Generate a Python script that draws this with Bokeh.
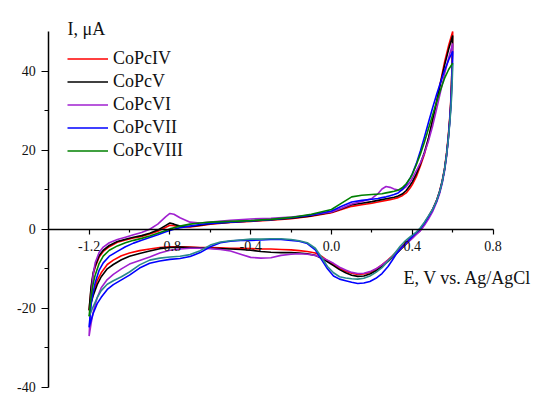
from bokeh.plotting import figure
from bokeh.models import Range1d, FixedTicker, Legend, LegendItem, Label
from bokeh.embed import file_html
from bokeh.resources import INLINE
import numpy as np

# ---- data (E in V vs Ag/AgCl, I in uA) ----
E_fwd = [-1.20, -1.19, -1.18, -1.17, -1.15, -1.13, -1.10, -1.06, -1.02, -0.98,
         -0.94, -0.90, -0.86, -0.82, -0.80, -0.78, -0.75, -0.70, -0.65, -0.60,
         -0.50, -0.40, -0.30, -0.20, -0.10, 0.00, 0.05, 0.10, 0.15, 0.20,
         0.23, 0.25, 0.27, 0.29, 0.31, 0.33, 0.35, 0.37, 0.39, 0.40,
         0.42, 0.44, 0.46, 0.48, 0.50, 0.52, 0.54, 0.56, 0.58, 0.60]

E_rev = [0.600, 0.599, 0.597, 0.594, 0.590, 0.585, 0.578, 0.570, 0.560, 0.548,
         0.535, 0.520, 0.500, 0.480, 0.460, 0.440, 0.420, 0.400, 0.380, 0.360,
         0.340, 0.320, 0.300, 0.280, 0.250, 0.220, 0.190, 0.160, 0.130, 0.100,
         0.070, 0.040, 0.010, -0.020, -0.050, -0.080, -0.120, -0.160, -0.200, -0.250,
         -0.300, -0.350, -0.400, -0.450, -0.500, -0.550, -0.600, -0.650, -0.700, -0.750,
         -0.800, -0.850, -0.900, -0.950, -1.000, -1.040, -1.080, -1.110, -1.140, -1.160,
         -1.180, -1.190, -1.200]

I_IV_fwd = [-20.5, -15.0, -11.5, -9.6, -7.0, -5.6, -4.4, -3.3, -2.7, -2.2,
            -1.8, -1.2, -0.5, 0.5, 1.0, 0.9, 0.6, 0.6, 0.9, 1.3,
            1.7, 2.0, 2.3, 2.7, 3.3, 4.2, 5.0, 5.8, 6.2, 6.6,
            6.9, 7.1, 7.3, 7.5, 7.7, 8.0, 8.5, 9.2, 10.5, 11.3,
            13.3, 16.0, 19.0, 22.8, 27.3, 32.3, 37.3, 42.3, 46.5, 50.0]
I_IV_rev = [50.0, 46.0, 42.0, 37.0, 32.0, 28.0, 23.5, 19.5, 15.5, 12.3,
            9.6, 7.3, 5.0, 3.2, 1.5, 0.0, -0.9, -1.8, -2.8, -3.8,
            -4.8, -5.8, -6.8, -7.7, -9.0, -10.1, -10.9, -11.3, -11.4, -11.1,
            -10.6, -9.9, -8.9, -7.9, -6.8, -6.0, -5.6, -5.4, -5.2, -5.1,
            -5.0, -5.0, -4.9, -4.8, -4.8, -4.7, -4.6, -4.6, -4.5, -4.4,
            -4.4, -4.6, -5.0, -5.4, -6.0, -6.7, -7.8, -8.9, -11.0, -13.0,
            -16.0, -18.3, -20.5]

I_V_fwd = [-20.5, -14.5, -11.0, -9.3, -6.6, -5.3, -4.1, -3.1, -2.5, -2.0,
           -1.6, -1.0, -0.2, 1.0, 1.6, 1.3, 0.8, 0.7, 1.0, 1.4,
           1.8, 2.1, 2.4, 2.8, 3.4, 4.3, 5.2, 6.2, 6.6, 7.0,
           7.3, 7.5, 7.7, 7.9, 8.1, 8.4, 8.9, 9.8, 11.2, 12.0,
           14.0, 16.5, 19.5, 23.0, 27.5, 32.0, 37.0, 41.5, 45.5, 49.0]
I_V_rev = [49.0, 45.5, 41.5, 36.5, 31.5, 27.5, 23.0, 19.0, 15.2, 12.0,
           9.4, 7.1, 4.8, 3.0, 1.3, -0.2, -1.2, -2.2, -3.2, -4.2,
           -5.2, -6.2, -7.2, -8.1, -9.4, -10.5, -11.3, -11.8, -11.9, -11.6,
           -11.0, -10.2, -9.2, -8.2, -7.3, -6.6, -6.2, -6.0, -5.9, -5.9,
           -5.8, -5.6, -5.3, -5.1, -5.0, -4.9, -4.8, -4.7, -4.6, -4.5,
           -4.6, -4.9, -5.5, -6.1, -6.8, -7.7, -8.9, -10.0, -12.0, -14.0,
           -16.8, -18.6, -20.5]

I_VI_fwd = [-27.0, -17.0, -11.5, -8.5, -5.8, -4.5, -3.4, -2.6, -2.0, -1.4,
            -0.8, 0.0, 1.3, 3.2, 4.0, 3.8, 2.9, 1.8, 1.6, 1.8,
            2.3, 2.6, 2.8, 3.1, 3.6, 4.4, 5.3, 6.4, 7.0, 7.8,
            9.0, 10.2, 10.8, 10.6, 10.2, 9.9, 10.0, 10.8, 12.0, 12.9,
            14.8, 16.8, 19.2, 22.3, 26.0, 30.3, 34.8, 39.3, 43.3, 47.0]
I_VI_rev = [47.0, 43.5, 40.0, 35.5, 31.0, 27.0, 22.5, 18.5, 14.8, 11.6,
            9.0, 6.8, 4.4, 2.6, 1.0, -0.4, -1.3, -2.3, -3.2, -4.1,
            -5.0, -6.0, -7.0, -7.8, -9.0, -10.0, -10.7, -11.1, -11.2, -10.9,
            -10.3, -9.6, -8.6, -7.8, -7.1, -6.6, -6.3, -6.2, -6.3, -6.6,
            -7.2, -7.3, -7.1, -6.3, -5.5, -5.1, -4.9, -4.8, -4.8, -5.0,
            -5.3, -6.0, -7.0, -7.9, -8.8, -10.0, -11.4, -12.7, -14.8, -17.3,
            -21.0, -23.8, -27.0]

I_VII_fwd = [-24.8, -19.0, -16.0, -13.5, -10.3, -8.5, -6.8, -5.6, -4.4, -3.5,
             -2.8, -2.1, -1.4, -0.6, -0.3, 0.0, 0.4, 0.8, 1.2, 1.5,
             1.8, 2.1, 2.4, 2.9, 3.6, 4.6, 5.8, 6.9, 7.3, 7.6,
             7.8, 8.0, 8.2, 8.5, 8.8, 9.2, 10.0, 11.3, 13.0, 14.0,
             16.6, 19.8, 23.3, 27.0, 30.6, 34.0, 37.2, 40.2, 42.8, 45.0]
I_VII_rev = [45.0, 42.0, 38.5, 34.5, 30.5, 27.0, 22.8, 19.0, 15.2, 12.0,
             9.4, 7.1, 4.9, 3.2, 1.6, 0.2, -0.8, -1.8, -2.9, -3.9,
             -5.0, -6.3, -7.9, -9.4, -11.2, -12.4, -13.2, -13.6, -13.7, -13.4,
             -13.0, -12.6, -11.8, -10.0, -7.6, -5.2, -3.6, -3.0, -2.8, -2.6,
             -2.6, -2.7, -2.8, -2.8, -3.0, -3.4, -4.4, -5.9, -6.9, -7.4,
             -7.6, -8.0, -8.6, -9.8, -11.6, -12.8, -14.0, -15.2, -17.2, -18.8,
             -21.3, -23.0, -24.8]

I_VIII_fwd = [-22.0, -17.0, -13.8, -11.6, -8.6, -6.8, -5.3, -4.2, -3.4, -2.8,
              -2.3, -1.7, -1.0, -0.3, 0.1, 0.4, 0.8, 1.3, 1.6, 1.8,
              2.0, 2.2, 2.5, 3.0, 3.8, 5.0, 6.6, 8.2, 8.6, 8.8,
              8.9, 9.0, 9.2, 9.4, 9.6, 9.9, 10.5, 11.5, 13.0, 13.9,
              16.3, 19.0, 22.0, 25.4, 28.8, 32.2, 35.3, 38.2, 40.4, 42.0]
I_VIII_rev = [42.0, 39.5, 36.5, 33.0, 29.8, 26.5, 22.6, 18.9, 15.2, 12.0,
              9.4, 7.2, 5.0, 3.4, 1.8, 0.4, -0.7, -1.5, -2.3, -3.2,
              -4.3, -5.6, -6.9, -8.0, -9.7, -10.9, -11.8, -12.4, -12.6, -12.5,
              -12.3, -12.0, -11.0, -9.4, -7.0, -4.8, -3.4, -2.9, -2.6, -2.4,
              -2.4, -2.5, -2.5, -2.7, -2.9, -3.2, -4.0, -5.4, -6.4, -6.8,
              -7.0, -7.3, -7.8, -9.0, -10.8, -12.0, -13.0, -13.9, -15.5, -17.3,
              -19.6, -20.8, -22.0]

names = ["CoPcIV", "CoPcV", "CoPcVI", "CoPcVII", "CoPcVIII"]
colors = ["#ff0000", "#000000", "#a020d0", "#0000ff", "#008000"]
# colour of the cathodic (return) sweep; CoPcVIII's return sweep is drawn teal
rev_colors = ["#ff0000", "#000000", "#a020d0", "#0000ff", "#2a8a8a"]
fwd = [I_IV_fwd, I_V_fwd, I_VI_fwd, I_VII_fwd, I_VIII_fwd]
rev = [I_IV_rev, I_V_rev, I_VI_rev, I_VII_rev, I_VIII_rev]

x_major = [-1.2, -0.8, -0.4, 0.0, 0.4, 0.8]
x_major_labels = ["-1.2", "-0.8", "-0.4", "0.0", "0.4", "0.8"]
x_minor = [-1.0, -0.6, -0.2, 0.2, 0.6]
y_major = [-40, -20, 0, 20, 40]
y_major_labels = ["-40", "-20", "0", "20", "40"]
y_minor = [-30, -10, 10, 30]
x_axis_span = (-1.4, 0.8)
y_axis_span = (-40, 50)

FONT = "Liberation Serif"
TICK_FONT = "Times New Roman"
W, H = 536, 394

# frame covers the whole canvas; axes are drawn at fixed data locations
p = figure(width=W, height=H, x_range=Range1d(-1.6386, 1.0149), y_range=Range1d(-41.77, 57.84),
           output_backend="svg", toolbar_location=None,
           min_border_left=0, min_border_right=0, min_border_top=0, min_border_bottom=0)
p.outline_line_color = None
p.grid.visible = False
p.background_fill_color = "white"
p.border_fill_color = "white"

items = []
for name, col, rcol, f, r in zip(names, colors, rev_colors, fwd, rev):
    if rcol == col:
        xs = np.concatenate([E_fwd, E_rev])
        ys = np.concatenate([f, r])
        rend = p.line(xs, ys, line_color=col, line_width=1.6)
    else:
        p.line(E_rev, r, line_color=rcol, line_width=1.6)
        rend = p.line(E_fwd, f, line_color=col, line_width=1.6)
    items.append(LegendItem(label=name, renderers=[rend]))

xa = p.xaxis[0]
xa.fixed_location = 0
xa.bounds = x_axis_span
xa.ticker = FixedTicker(ticks=x_major, minor_ticks=x_minor)
xa.major_label_overrides = {v: s for v, s in zip(x_major, x_major_labels)}
ya = p.yaxis[0]
ya.fixed_location = x_axis_span[0]
ya.bounds = y_axis_span
ya.ticker = FixedTicker(ticks=y_major, minor_ticks=y_minor)
ya.major_label_overrides = {v: s for v, s in zip(y_major, y_major_labels)}

for ax in (xa, ya):
    ax.axis_line_color = "black"
    ax.axis_line_width = 1.5
    ax.major_tick_line_color = "black"
    ax.minor_tick_line_color = "black"
    ax.major_tick_line_width = 1.2
    ax.minor_tick_line_width = 1.2
    ax.major_tick_in = 0
    ax.minor_tick_in = 0
    ax.major_label_text_font = TICK_FONT
    ax.major_label_text_font_size = "14px"
    ax.major_label_text_font_style = "normal"
    ax.major_label_text_color = "#111111"

xa.major_tick_out = 5
xa.minor_tick_out = 3
xa.major_label_standoff = 7
ya.major_tick_out = 7
ya.minor_tick_out = 4
ya.major_label_standoff = 6

legend = Legend(items=items, location=(67, 233), margin=0, padding=0,
                glyph_width=41, glyph_height=21, label_height=21, spacing=2,
                label_standoff=5, label_text_font=FONT, label_text_font_size="18px",
                label_text_color="#111111",
                background_fill_alpha=0, border_line_color=None)
p.add_layout(legend)

p.add_layout(Label(x=-1.307, y=50.76, text="I, \u03bcA", text_font=FONT,
                   text_font_size="18px", text_color="#111111", text_baseline="alphabetic"))
p.add_layout(Label(x=0.3564, y=-12.4, text="E, V vs. Ag/AgCl", text_font=FONT,
                   text_font_size="18px", text_color="#111111", text_baseline="alphabetic"))

open("out.html", "w").write(file_html(p, INLINE))
